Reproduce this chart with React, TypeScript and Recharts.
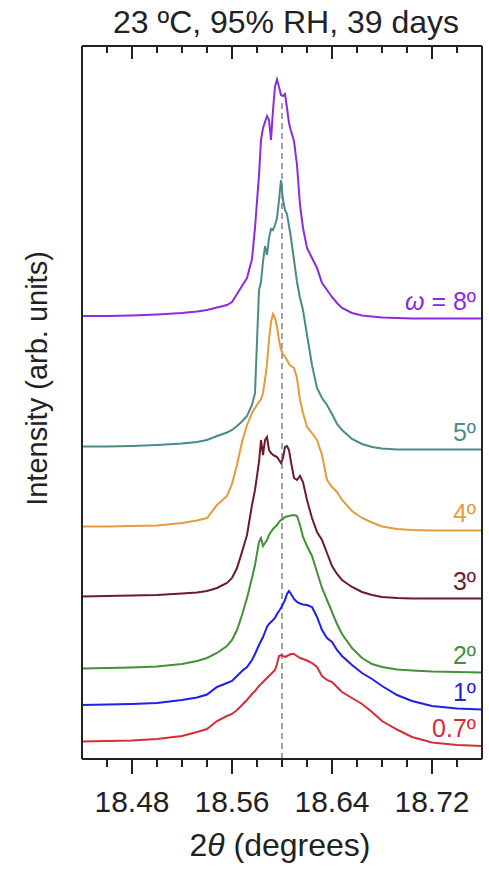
import React from 'react';
import { LineChart, Line, XAxis, YAxis, ReferenceLine, ReferenceDot } from 'recharts';

// 2theta grid (degrees), denser around the peak
const twoTheta = [
  18.44, 18.46, 18.48, 18.5, 18.52, 18.532, 18.54, 18.548, 18.556, 18.56,
  18.564, 18.568, 18.572, 18.576, 18.5784, 18.5816, 18.5832, 18.5848, 18.5864, 18.588,
  18.5896, 18.5912, 18.5928, 18.5944, 18.596, 18.5976, 18.5992, 18.6008, 18.6024, 18.604,
  18.6056, 18.6072, 18.6096, 18.612, 18.6144, 18.6168, 18.62, 18.624, 18.628, 18.632,
  18.636, 18.64, 18.644, 18.648, 18.656, 18.664, 18.672, 18.68, 18.692, 18.704,
  18.72, 18.74, 18.76,
];

// intensities (arb. units) above each curve's own baseline
const omega8 = [
  2.5, 2.5, 3, 4, 5.5, 7, 8.5, 11, 13.5, 16.5,
  24.5, 32.5, 40.5, 59.5, 90.5, 143.5, 178.5, 190.5, 196.5, 202.5,
  198.5, 178.5, 208.5, 232, 239, 231.5, 223.5, 222.5, 224.5, 210.5,
  195.5, 187.5, 177.5, 153.5, 113.5, 90.5, 70.5, 60.5, 50.5, 35.5,
  28.5, 21.5, 15.5, 10.5, 5.5, 3, 2, 1, 0.5, 0,
  0, 0, 0,
];
const omega5 = [
  3, 3, 3.5, 4.5, 6, 7.5, 9.5, 13.5, 17, 19.5,
  23.5, 28, 33.5, 44.5, 56.5, 159.5, 167.5, 187.5, 203.5, 194.5,
  211.5, 220.5, 219.5, 224.5, 231.5, 249.5, 269.5, 249.5, 239.5, 235.5,
  223.5, 211.5, 189.5, 167.5, 151.5, 139.5, 114.5, 84.5, 61.5, 51.5,
  44.5, 35.5, 25.5, 19.5, 10.5, 5.5, 2.5, 1, 0, 0,
  0, 0, 0,
];
const omega4 = [
  4, 4, 4.5, 5, 7.5, 10, 12.5, 25.5, 34.5, 46.5,
  65.5, 88.5, 105.5, 117.5, 122.5, 128.5, 131.5, 137.5, 150.5, 166.5,
  190.5, 208.5, 216.5, 212.5, 203.5, 190.5, 180.5, 176.5, 173.5, 170.5,
  166.5, 164.5, 162.5, 152.5, 130.5, 117.5, 103.5, 97.5, 90.5, 75.5,
  50.5, 43.5, 38.5, 30.5, 19.5, 12.5, 8, 4, 1.5, 0.5,
  0, 0, 0,
];
const omega3 = [
  2, 2.5, 3, 3.5, 5, 6, 7.5, 10.5, 15.5, 20.5,
  30.5, 46.5, 63.5, 93.5, 108.5, 136.5, 158.5, 143.5, 158.5, 161.5,
  148.5, 145.5, 143.5, 142.5, 141.5, 138.5, 135.5, 140.5, 151.5, 152.5,
  148.5, 136.5, 120.5, 118.5, 122.5, 116.5, 98.5, 80.5, 66.5, 58.5,
  45.5, 32.5, 24.5, 18.5, 11.5, 6.5, 3.5, 1.5, 0.5, 0,
  0, 0, 0,
];
const omega2 = [
  4, 4.5, 5, 6, 8.5, 11.5, 14.5, 19.5, 26.5, 32.5,
  42.5, 57.5, 74.5, 94.5, 107.5, 130.5, 134.5, 126.5, 129.5, 132.5,
  137.5, 140.5, 143.5, 145.5, 147.5, 150.5, 152.5, 153.5, 155.5, 156,
  156.5, 157, 157.5, 156.5, 147.5, 135.5, 126.5, 116.5, 100.5, 84.5,
  72.5, 60.5, 48.5, 38.5, 24.5, 14.5, 8.5, 5.5, 3, 2,
  1, 0.5, 0,
];
const omega1 = [
  4.5, 5, 5.5, 6.5, 9.5, 12, 15, 22.5, 26.5, 28.5,
  33.5, 38.5, 42.5, 49.5, 55.5, 64.5, 68.5, 72.5, 77.5, 82.5,
  85.5, 87.5, 89.5, 91.5, 95.5, 98.5, 101.5, 105.5, 109.5, 115.5,
  118.5, 115.5, 110.5, 107.5, 106, 105, 104.5, 102.5, 92.5, 79.5,
  71.5, 67.5, 59.5, 53.5, 44.5, 36.5, 30.5, 23.5, 14.5, 8.5,
  3.5, 1, 0,
];
const omega07 = [
  4.5, 5, 5.5, 7, 10, 14, 17, 25, 30, 32,
  36, 41, 46, 52, 55, 60, 62, 64, 66, 68,
  70, 72, 74, 76, 82, 90, 91, 90, 89, 90,
  91, 92, 92, 90, 88, 87, 85.5, 83, 79, 70,
  66, 64, 59, 54, 48, 42, 34, 25, 16.5, 9,
  3.5, 1, 0,
];

const seriesValues = [omega8, omega5, omega4, omega3, omega2, omega1, omega07];
const seriesOffsets = [440.5, 309.5, 228.5, 160.5, 86.5, 49.5, 13];
const seriesLabels = ['8º', '5º', '4º', '3º', '2º', '1º', '0.7º'];
const seriesColors = ['#8a2be2', '#4b8a8a', '#e69a3c', '#6b1c2a', '#449038', '#1f1fe8', '#d42e36'];

const xDomain = [18.44, 18.76];
const tickValues = [18.46, 18.48, 18.5, 18.52, 18.54, 18.56, 18.58, 18.6, 18.62, 18.64, 18.66, 18.68, 18.7, 18.72, 18.74];
const majorTicks = [18.48, 18.56, 18.64, 18.72];
const peakPosition = 18.6;

const data = twoTheta.map((t, i) => {
  const row: Record<string, number> = { tt: t };
  seriesValues.forEach((vals, s) => {
    row['s' + s] = vals[i] + seriesOffsets[s];
  });
  return row;
});

const FONT = '"Liberation Sans", Arial, sans-serif';
const INK = '#222';
const Y_MAX = 713;

const isMajor = (v: number) => majorTicks.some((m) => Math.abs(m - v) < 1e-6);

const BottomTick = (props: any) => {
  const { x, y, payload } = props;
  const major = isMajor(payload.value);
  return (
    <g>
      <line x1={x} x2={x} y1={y} y2={y + (major ? 15 : 8)} stroke={INK} strokeWidth={2} />
      {major && (
        <text x={x} y={y + 53} textAnchor="middle" fontSize={30} fill={INK} fontFamily={FONT}>
          {payload.value.toFixed(2)}
        </text>
      )}
    </g>
  );
};

// title plus the inward ticks hanging from the top frame
const TopLabel = (p: any) => {
  const vb = p.viewBox;
  const base = vb.y + vb.height;
  const toX = (t: number) => vb.x + ((t - xDomain[0]) / (xDomain[1] - xDomain[0])) * vb.width;
  return (
    <g>
      <text x={vb.x + vb.width / 2 + 4} y={vb.y + 33} textAnchor="middle" fontSize={32} fill={INK} fontFamily={FONT}>
        23 ºC, 95% RH, 39 days
      </text>
      {tickValues.map((t) => (
        <line key={t} x1={toX(t)} x2={toX(t)} y1={base} y2={base + (isMajor(t) ? 13 : 7)} stroke={INK} strokeWidth={2} />
      ))}
    </g>
  );
};

export default function App() {
  const last = twoTheta[twoTheta.length - 1];
  return (
    <div style={{ position: 'absolute', left: 0, top: 0, background: '#fff' }}>
      <LineChart width={489} height={869} data={data} margin={{ top: 0, right: 0, bottom: 0, left: 0 }}>
        <XAxis
          dataKey="tt"
          type="number"
          domain={xDomain}
          allowDataOverflow
          ticks={tickValues}
          interval={0}
          height={110}
          tickSize={0}
          tickMargin={0}
          tickLine={false}
          tick={<BottomTick />}
          axisLine={{ stroke: INK, strokeWidth: 2 }}
          label={{
            content: (p: any) => {
              const vb = p.viewBox;
              return (
                <text x={vb.x + vb.width / 2 - 2} y={vb.y + 97} textAnchor="middle" fontSize={32} fill={INK} fontFamily={FONT}>
                  2<tspan fontStyle="italic">θ</tspan> (degrees)
                </text>
              );
            },
          }}
        />
        <XAxis
          xAxisId="top"
          orientation="top"
          dataKey="tt"
          type="number"
          domain={xDomain}
          allowDataOverflow
          height={46}
          tick={false}
          tickLine={false}
          axisLine={{ stroke: INK, strokeWidth: 2 }}
          label={{ content: (p: any) => <TopLabel {...p} /> }}
        />
        <YAxis
          type="number"
          domain={[0, Y_MAX]}
          allowDataOverflow
          width={82}
          tick={false}
          tickLine={false}
          axisLine={{ stroke: INK, strokeWidth: 2 }}
          label={{
            content: (p: any) => {
              const vb = p.viewBox;
              const cx = 47;
              const cy = vb.y + vb.height / 2 - 24;
              return (
                <text x={cx} y={cy} transform={`rotate(-90, ${cx}, ${cy})`} textAnchor="middle" fontSize={29} fill={INK} fontFamily={FONT}>
                  Intensity (arb. units)
                </text>
              );
            },
          }}
        />
        <YAxis
          yAxisId="right"
          orientation="right"
          type="number"
          domain={[0, Y_MAX]}
          width={7}
          tick={false}
          tickLine={false}
          axisLine={{ stroke: INK, strokeWidth: 2 }}
        />
        <ReferenceLine
          segment={[{ x: peakPosition, y: 0 }, { x: peakPosition, y: 658 }]}
          stroke="#8c8c8c"
          strokeWidth={1.6}
          strokeDasharray="6 4"
        />
        {seriesValues.map((_, s) => (
          <Line
            key={s}
            dataKey={'s' + s}
            type="linear"
            stroke={seriesColors[s]}
            strokeWidth={2}
            dot={false}
            isAnimationActive={false}
          />
        ))}
        {seriesLabels.map((lab, s) => (
          <ReferenceDot
            key={'l' + s}
            x={last}
            y={seriesOffsets[s]}
            r={0}
            shape={(p: any) => (
              <text x={p.cx - 6} y={p.cy - 9} textAnchor="end" fontSize={25} fill={seriesColors[s]} fontFamily={FONT}>
                {s === 0 && <tspan fontStyle="italic">ω</tspan>}
                {s === 0 ? ' = ' : ''}
                {lab}
              </text>
            )}
          />
        ))}
      </LineChart>
    </div>
  );
}
